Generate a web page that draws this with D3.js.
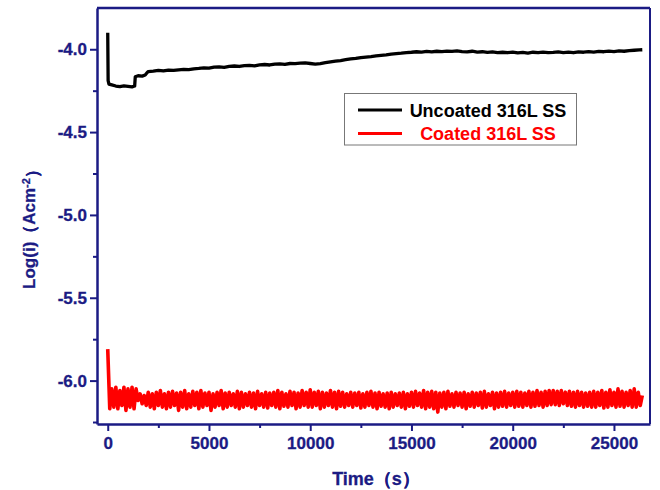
<!DOCTYPE html>
<html>
<head>
<meta charset="utf-8">
<script src="https://cdn.jsdelivr.net/npm/d3@7/dist/d3.min.js"></script>
<style>
  html, body { margin: 0; padding: 0; background: #fff; }
  svg { display: block; font-family: "Liberation Sans", Arial, sans-serif; font-weight: bold; }
</style>
</head>
<body>
<svg id="chart" width="660" height="490"></svg>
<script>
// ---- data ----
const seriesNames = ["Uncoated 316L SS", "Coated 316L SS"];

const xTicks = [0, 5000, 10000, 15000, 20000, 25000];
const yTicks = [-6.0, -5.5, -5.0, -4.5, -4.0];

// Uncoated: sample times (s) and log current density
const blackTime = [0, 20, 60, 200, 400, 600, 800, 1000, 1200, 1330, 1360, 1500, 1700, 1850, 1950]
  .concat(d3.range(2000, 26251, 250), [26400]);
const blackValue = [
  -3.90, -4.19, -4.21, -4.215, -4.222, -4.226, -4.221, -4.224, -4.227, -4.222, -4.166, -4.160, -4.162, -4.155, -4.140,
  -4.135, -4.132, -4.128, -4.131, -4.126, -4.128, -4.124, -4.121, -4.123, -4.118,
  -4.116, -4.112, -4.114, -4.108, -4.106, -4.109, -4.103, -4.101, -4.104, -4.099,
  -4.097, -4.100, -4.094, -4.092, -4.095, -4.090, -4.088, -4.091, -4.086, -4.087,
  -4.084, -4.082, -4.086, -4.090, -4.087, -4.081, -4.076, -4.072, -4.068, -4.063,
  -4.058, -4.055, -4.050, -4.047, -4.044, -4.040, -4.037, -4.034, -4.030, -4.027,
  -4.024, -4.020, -4.018, -4.015, -4.017, -4.013, -4.016, -4.012, -4.014, -4.011,
  -4.013, -4.010, -4.014, -4.016, -4.012, -4.017, -4.015, -4.019, -4.016, -4.020,
  -4.018, -4.021, -4.017, -4.022, -4.019, -4.023, -4.018, -4.021, -4.017, -4.020,
  -4.019, -4.016, -4.020, -4.017, -4.021, -4.016, -4.018, -4.014, -4.017, -4.013,
  -4.015, -4.011, -4.014, -4.010, -4.012, -4.008, -4.006, -4.004,
  -4.003
];

// Coated: readings every 100 s from 0 s
const redStep = 100;
const redValue = [
  -5.81, -6.17, -6.05, -6.16, -6.04, -6.17, -6.06, -6.15, -6.04, -6.18, -6.05, -6.16, -6.04, -6.17, -6.05, -6.12, -6.08, -6.14, -6.09, -6.15,
  -6.07, -6.16, -6.08, -6.17, -6.07, -6.15, -6.06, -6.16, -6.08, -6.17, -6.07, -6.16, -6.065, -6.15, -6.075, -6.18, -6.07, -6.16, -6.06, -6.17,
  -6.08, -6.16, -6.065, -6.15, -6.07, -6.17, -6.06, -6.16, -6.075, -6.15, -6.07, -6.18, -6.08, -6.16, -6.07, -6.15, -6.06, -6.17, -6.075, -6.16,
  -6.07, -6.15, -6.08, -6.16, -6.065, -6.17, -6.07, -6.16, -6.08, -6.15, -6.07, -6.16, -6.075, -6.17, -6.065, -6.15, -6.08, -6.16, -6.07, -6.165,
  -6.075, -6.15, -6.07, -6.16, -6.06, -6.17, -6.07, -6.155, -6.08, -6.16, -6.065, -6.15, -6.07, -6.17, -6.075, -6.16, -6.06, -6.15, -6.07, -6.16,
  -6.055, -6.16, -6.07, -6.15, -6.065, -6.17, -6.07, -6.16, -6.075, -6.15, -6.06, -6.16, -6.07, -6.17, -6.065, -6.155, -6.07, -6.16, -6.08, -6.15,
  -6.07, -6.16, -6.075, -6.15, -6.07, -6.165, -6.08, -6.16, -6.07, -6.15, -6.065, -6.16, -6.075, -6.17, -6.07, -6.155, -6.08, -6.16, -6.075, -6.17,
  -6.07, -6.16, -6.08, -6.15, -6.075, -6.16, -6.07, -6.17, -6.08, -6.155, -6.07, -6.16, -6.065, -6.15, -6.075, -6.16, -6.06, -6.17, -6.07, -6.16,
  -6.065, -6.17, -6.07, -6.19, -6.075, -6.16, -6.07, -6.17, -6.065, -6.155, -6.08, -6.16, -6.07, -6.15, -6.075, -6.16, -6.07, -6.17, -6.08, -6.155,
  -6.07, -6.16, -6.075, -6.15, -6.07, -6.165, -6.065, -6.16, -6.08, -6.15, -6.07, -6.17, -6.075, -6.16, -6.07, -6.155, -6.065, -6.16, -6.075, -6.15,
  -6.07, -6.16, -6.065, -6.155, -6.07, -6.16, -6.075, -6.15, -6.065, -6.16, -6.07, -6.155, -6.06, -6.15, -6.07, -6.16, -6.065, -6.15, -6.06, -6.145,
  -6.06, -6.145, -6.065, -6.15, -6.06, -6.14, -6.07, -6.15, -6.065, -6.155, -6.07, -6.16, -6.065, -6.15, -6.07, -6.16, -6.075, -6.155, -6.07, -6.16,
  -6.065, -6.16, -6.07, -6.15, -6.06, -6.165, -6.07, -6.16, -6.055, -6.15, -6.07, -6.16, -6.05, -6.155, -6.065, -6.16, -6.07, -6.15, -6.06, -6.16,
  -6.05, -6.16, -6.07, -6.15, -6.09
];

// ---- layout ----
const svg = d3.select("#chart");
const margin = { top: 8, right: 10, bottom: 66, left: 97 };
const W = 660, H = 490;
const innerW = W - margin.left - margin.right;
const innerH = H - margin.top - margin.bottom;
const axisColor = "#1b1b84";

const x = d3.scaleLinear().domain([-530, 26780]).range([0, innerW]);
const y = d3.scaleLinear().domain([-6.262, -3.751]).range([innerH, 0]);

const g = svg.append("g").attr("transform", `translate(${margin.left},${margin.top})`);

// data lines
const line = d3.line().x(d => x(d[0])).y(d => y(d[1]));

const redData = redValue.map((v, i) => [i * redStep, v]);
const blackData = blackValue.map((v, i) => [blackTime[i], v]);

g.append("path")
  .datum(redData)
  .attr("fill", "none")
  .attr("stroke", "#ff0000")
  .attr("stroke-width", 3.6)
  .attr("stroke-linejoin", "round")
  .attr("d", line);

g.append("path")
  .datum(blackData)
  .attr("fill", "none")
  .attr("stroke", "#000")
  .attr("stroke-width", 3.3)
  .attr("stroke-linejoin", "round")
  .attr("d", line);

// frame: top and right border
g.append("line").attr("x1", 0).attr("x2", innerW).attr("y1", 0).attr("y2", 0)
  .attr("stroke", axisColor).attr("stroke-width", 2.5);
g.append("line").attr("x1", innerW).attr("x2", innerW).attr("y1", 0).attr("y2", innerH)
  .attr("stroke", axisColor).attr("stroke-width", 2);

// minor ticks
const xMinor = xTicks.map(t => t + 2500).filter(t => t < x.domain()[1]);
const yMinor = yTicks.map(t => t - 0.25).concat([-3.75]).filter(t => t > y.domain()[0] && t < y.domain()[1]);

const xMinorAxis = d3.axisBottom(x).tickValues(xMinor).tickSize(4).tickFormat("");
const yMinorAxis = d3.axisLeft(y).tickValues(yMinor).tickSize(4).tickFormat("");

g.append("g").attr("transform", `translate(0,${innerH})`).call(xMinorAxis)
  .call(s => s.select(".domain").remove())
  .call(s => s.selectAll("line").attr("stroke", axisColor).attr("stroke-width", 2));
g.append("g").call(yMinorAxis)
  .call(s => s.select(".domain").remove())
  .call(s => s.selectAll("line").attr("stroke", axisColor).attr("stroke-width", 2));

// major axes
const xAxis = d3.axisBottom(x).tickValues(xTicks).tickSize(7).tickSizeOuter(0).tickPadding(6)
  .tickFormat(d => String(d));
const yAxis = d3.axisLeft(y).tickValues(yTicks).tickSize(7).tickSizeOuter(0).tickPadding(3)
  .tickFormat(d => d.toFixed(1));

const gx = g.append("g").attr("transform", `translate(0,${innerH})`).call(xAxis);
const gy = g.append("g").call(yAxis);

[gx, gy].forEach(a => {
  a.select(".domain").attr("stroke", axisColor).attr("stroke-width", 2.5);
  a.selectAll(".tick line").attr("stroke", axisColor).attr("stroke-width", 2);
  a.selectAll(".tick text")
    .attr("fill", axisColor)
    .attr("stroke", axisColor)
    .attr("stroke-width", 0.3)
    .style("font-family", "'Liberation Sans', Arial, sans-serif")
    .style("font-weight", "bold")
    .style("font-size", "17px");
});

// axis titles
svg.append("text")
  .attr("x", 376).attr("y", 485)
  .attr("text-anchor", "middle")
  .attr("fill", axisColor)
  .attr("stroke", axisColor)
  .attr("stroke-width", 0.3)
  .style("font-size", "18px")
  .text("Time（s）");

const yTitle = svg.append("text")
  .attr("transform", "translate(35,225) rotate(-90)")
  .attr("text-anchor", "middle")
  .attr("fill", axisColor)
  .attr("stroke", axisColor)
  .attr("stroke-width", 0.3)
  .style("font-size", "17px");
yTitle.append("tspan").text("Log(i)（Acm");
yTitle.append("tspan").attr("dy", "-0.45em").style("font-size", "11px").text("-2");
yTitle.append("tspan").attr("dy", "0.45em").text("）");

// legend
const legend = svg.append("g");
legend.append("rect")
  .attr("x", 344.5).attr("y", 93.5).attr("width", 232).attr("height", 51.5)
  .attr("fill", "#fff").attr("stroke", "#777").attr("stroke-width", 1);

const legendColors = ["#000", "#ff0000"];
seriesNames.forEach((name, i) => {
  const ly = 110 + i * 23.5;
  legend.append("line")
    .attr("x1", 358).attr("x2", 402).attr("y1", ly).attr("y2", ly)
    .attr("stroke", legendColors[i]).attr("stroke-width", 3);
  legend.append("text")
    .attr("x", 488).attr("y", ly + 6.5)
    .attr("text-anchor", "middle")
    .attr("fill", legendColors[i])
    .style("font-size", "18px")
    .text(name);
});
</script>
</body>
</html>
